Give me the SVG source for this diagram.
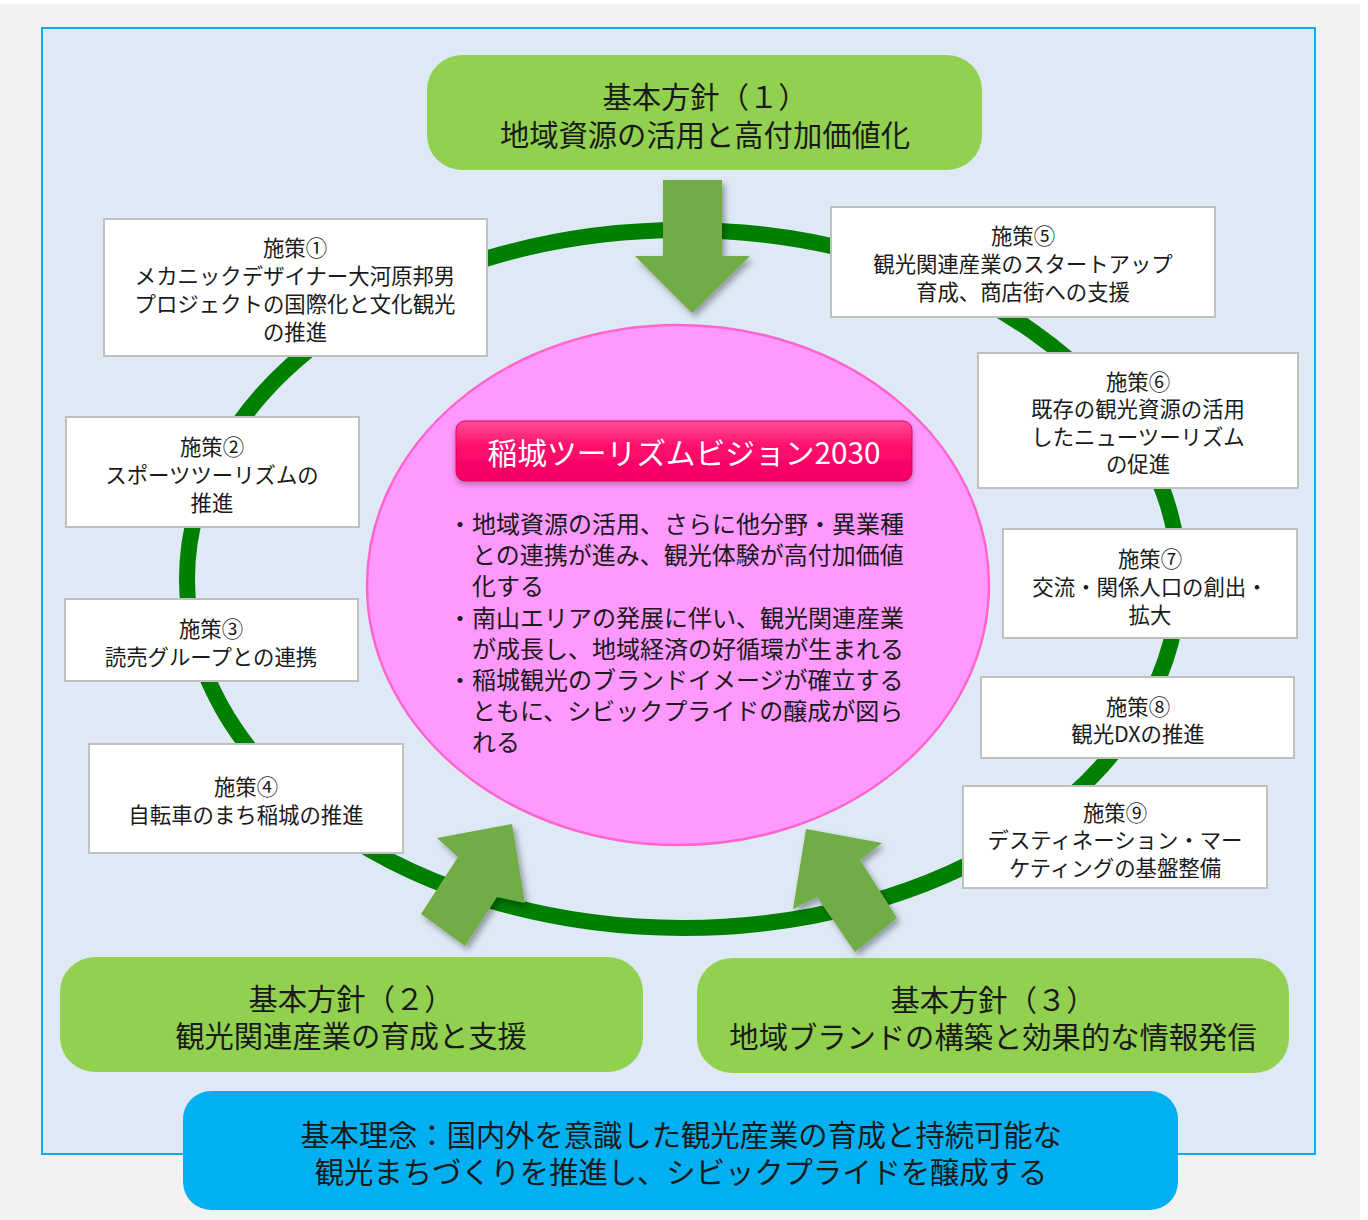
<svg xmlns="http://www.w3.org/2000/svg" width="1368" height="1220" viewBox="0 0 1368 1220">
<style>
text{font-family:"Noto Sans CJK JP","Noto Sans",sans-serif;fill:#1a1a1a;text-anchor:middle;dominant-baseline:central}
.box{fill:#fff;stroke:#bfbfbf;stroke-width:2}
.bt{font-size:21.4px}
.green{fill:#92d050}
.gt{font-size:29.3px}
.arrow{fill:#70ad47;filter:url(#sh)}
.bul{font-size:24px;text-anchor:start}
</style>
<defs>
<filter id="sh" x="-20%" y="-20%" width="150%" height="150%">
<feDropShadow dx="3" dy="4" stdDeviation="3" flood-color="#000" flood-opacity="0.35"/>
</filter>
<filter id="sh2" x="-10%" y="-20%" width="120%" height="160%">
<feDropShadow dx="0" dy="3" stdDeviation="3" flood-color="#000" flood-opacity="0.3"/>
</filter>
<linearGradient id="pg" x1="0" y1="0" x2="0" y2="1">
<stop offset="0" stop-color="#ff4d94"/>
<stop offset="0.45" stop-color="#ff0a6c"/>
<stop offset="1" stop-color="#f20065"/>
</linearGradient>
</defs>
<rect x="0" y="4" width="1360" height="1216" fill="#f2f2f2"/>
<rect x="42" y="28" width="1273" height="1126" fill="#dee9f5" stroke="#00b0f0" stroke-width="2"/>

<g id="ring">
<ellipse cx="683" cy="579" rx="496" ry="349" fill="none" stroke="#008000" stroke-width="16"/>
</g>

<g id="vision">
<ellipse cx="678" cy="585" rx="311" ry="260" fill="#ff99ff" stroke="#ff66cc" stroke-width="2.5"/>
<rect x="456" y="421" width="456" height="60" rx="9" fill="url(#pg)" stroke="#e0005e" stroke-width="1" filter="url(#sh2)"/>
<text x="684" y="451" textLength="393" lengthAdjust="spacingAndGlyphs" style="font-size:30px;fill:#fff">稲城ツーリズムビジョン2030</text>
<text class="bul"><tspan x="448" y="522">・地域資源の活用、さらに他分野・異業種</tspan><tspan x="472" y="553">との連携が進み、観光体験が高付加価値</tspan><tspan x="472" y="584">化する</tspan><tspan x="448" y="616">・南山エリアの発展に伴い、観光関連産業</tspan><tspan x="472" y="647">が成長し、地域経済の好循環が生まれる</tspan><tspan x="448" y="678">・稲城観光のブランドイメージが確立する</tspan><tspan x="472" y="709">ともに、シビックプライドの醸成が図ら</tspan><tspan x="472" y="740">れる</tspan></text>
</g>

<g id="connectors">
<polygon class="arrow" points="663,180 722,180 722,256 750,256 692,313 635,256 663,256"/>
<polygon class="arrow" points="421,914 458,857 437,838 512,824 525,903 497,897 465,946"/>
<polygon class="arrow" points="855,952 817,897 793,909 806,829 882,843 860,860 897,918"/>
</g>

<g id="policy1">
<rect class="green" x="427" y="55" width="555" height="115" rx="35"/>
<text class="gt"><tspan x="705" y="95">基本方針（１）</tspan><tspan x="705" y="133">地域資源の活用と高付加価値化</tspan></text>
</g>
<g id="policy2">
<rect class="green" x="60" y="957" width="583" height="115" rx="35"/>
<text class="gt"><tspan x="351" y="997">基本方針（２）</tspan><tspan x="351" y="1034">観光関連産業の育成と支援</tspan></text>
</g>
<g id="policy3">
<rect class="green" x="697" y="958" width="592" height="115" rx="35"/>
<text class="gt"><tspan x="993" y="998">基本方針（３）</tspan><tspan x="993" y="1035">地域ブランドの構築と効果的な情報発信</tspan></text>
</g>
<g id="philosophy">
<rect x="183" y="1091" width="995" height="119" rx="28" fill="#00b0f0"/>
<text class="gt"><tspan x="681" y="1133">基本理念：国内外を意識した観光産業の育成と持続可能な</tspan><tspan x="681" y="1170">観光まちづくりを推進し、シビックプライドを醸成する</tspan></text>
</g>

<g id="measure1">
<rect class="box" x="104" y="219" width="383" height="137"/>
<text class="bt"><tspan x="295" y="246">施策①</tspan><tspan x="295" y="274">メカニックデザイナー大河原邦男</tspan><tspan x="295" y="302">プロジェクトの国際化と文化観光</tspan><tspan x="295" y="330">の推進</tspan></text>
</g>
<g id="measure2">
<rect class="box" x="66" y="417" width="293" height="110"/>
<text class="bt"><tspan x="212" y="445">施策②</tspan><tspan x="212" y="473">スポーツツーリズムの</tspan><tspan x="212" y="501">推進</tspan></text>
</g>
<g id="measure3">
<rect class="box" x="65" y="599" width="293" height="82"/>
<text class="bt"><tspan x="211" y="627">施策③</tspan><tspan x="211" y="655">読売グループとの連携</tspan></text>
</g>
<g id="measure4">
<rect class="box" x="89" y="744" width="314" height="109"/>
<text class="bt"><tspan x="246" y="785">施策④</tspan><tspan x="246" y="813">自転車のまち稲城の推進</tspan></text>
</g>
<g id="measure5">
<rect class="box" x="831" y="207" width="384" height="110"/>
<text class="bt"><tspan x="1023" y="234">施策⑤</tspan><tspan x="1023" y="262">観光関連産業のスタートアップ</tspan><tspan x="1023" y="290">育成、商店街への支援</tspan></text>
</g>
<g id="measure6">
<rect class="box" x="978" y="353" width="320" height="135"/>
<text class="bt"><tspan x="1138" y="380">施策⑥</tspan><tspan x="1138" y="407">既存の観光資源の活用</tspan><tspan x="1138" y="435">したニューツーリズム</tspan><tspan x="1138" y="462">の促進</tspan></text>
</g>
<g id="measure7">
<rect class="box" x="1003" y="529" width="294" height="109"/>
<text class="bt"><tspan x="1150" y="557">施策⑦</tspan><tspan x="1150" y="585">交流・関係人口の創出・</tspan><tspan x="1150" y="613">拡大</tspan></text>
</g>
<g id="measure8">
<rect class="box" x="981" y="677" width="313" height="81"/>
<text class="bt"><tspan x="1138" y="705">施策⑧</tspan><tspan x="1138" y="732">観光DXの推進</tspan></text>
</g>
<g id="measure9">
<rect class="box" x="963" y="786" width="304" height="102"/>
<text class="bt"><tspan x="1115" y="811">施策⑨</tspan><tspan x="1115" y="838">デスティネーション・マー</tspan><tspan x="1115" y="866">ケティングの基盤整備</tspan></text>
</g>
</svg>
